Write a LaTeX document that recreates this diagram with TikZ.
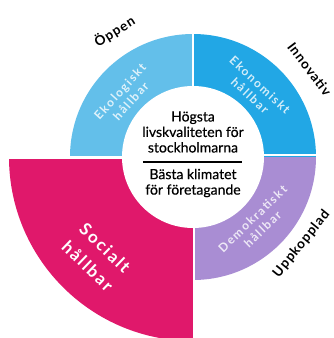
\documentclass[tikz,border=0pt]{standalone}
\usepackage{fontspec}
\setmainfont{Lato}
\newfontfamily\centerfnt[FakeBold=0.4]{Lato}
\newfontfamily\outerfnt[LetterSpace=7]{Lato}
\newfontfamily\segfnt[LetterSpace=14]{Lato}
\newfontfamily\socfnt[LetterSpace=12]{Lato}
\definecolor{ecoblue}{HTML}{63BFEA}
\definecolor{econblue}{HTML}{22A7E5}
\definecolor{demopurple}{HTML}{A98DD3}
\definecolor{socialpink}{HTML}{E0186B}
\begin{document}
\begin{tikzpicture}[x=1pt,y=1pt,
  seglabel/.style={align=center, font=\segfnt\bfseries\fontsize{12}{14.5}\selectfont, text=white, text opacity=0.8, inner sep=0pt},
  soclabel/.style={align=center, font=\socfnt\bfseries\fontsize{17}{25}\selectfont, text=white, inner sep=0pt},
  centertext/.style={align=center, font=\centerfnt\fontsize{14}{15.5}\selectfont, inner sep=0pt},
  outerlabel/.style={font=\outerfnt\bfseries\fontsize{13.5}{16}\selectfont, inner sep=0pt},
  gap/.style={white, line width=3pt}]
\useasboundingbox (-193,-181) rectangle (141,157);
\begin{scope}
\clip (-193,-181) rectangle (141,157);
\fill[ecoblue] (0,0) -- (180:123) arc[start angle=180,end angle=90,radius=123] -- cycle;
\fill[econblue] (0,0) -- (90:123) arc[start angle=90,end angle=0,radius=123] -- cycle;
\fill[demopurple] (0,0) -- (0:123) arc[start angle=0,end angle=-90,radius=123] -- cycle;
\fill[socialpink] (0,0) -- (-90:184) arc[start angle=-90,end angle=-180,radius=184] -- cycle;
\draw[gap] (-195,-0.5) -- (0,-0.5);
\draw[gap, line width=2pt] (0,2) -- (195,2);
\draw[gap, line width=2.5pt] (0,0) -- (0,195);
\draw[gap, line width=2.5pt] (1,0) -- (1,-195);
\fill[white] (0,0) circle[radius=71];
\end{scope}
% segment labels
\node[seglabel, rotate=48] (eko) at (138:91) {Ekologiskt\\hållbar};
\node[seglabel, rotate=-43] (ekon) at (47:91) {Ekonomiskt\\hållbar};
\node[seglabel, rotate=44] (demo) at (-46:93) {Demokratiskt\\hållbar};
\node[soclabel, rotate=-44] (soc) at (-134:139) {Socialt\\hållbar};
% centre text
\node[centertext] (top) at (0,25) {Högsta\\livskvaliteten för\\stockholmarna};
\node[centertext] (bot) at (0,-26) {Bästa klimatet\\för företagande};
\coordinate (ll) at (-50,-5);
\coordinate (lr) at (49,-5);
\draw[line width=1.5pt] (ll) -- (lr);
% outer labels
\node[outerlabel, rotate=32] (oppen) at (122:148) {Öppen};
\node[outerlabel, rotate=-53] (innov) at (37:146) {Innovativ};
\node[outerlabel, rotate=51] (uppk) at (-38.7:139) {Uppkopplad};
\end{tikzpicture}
\end{document}
